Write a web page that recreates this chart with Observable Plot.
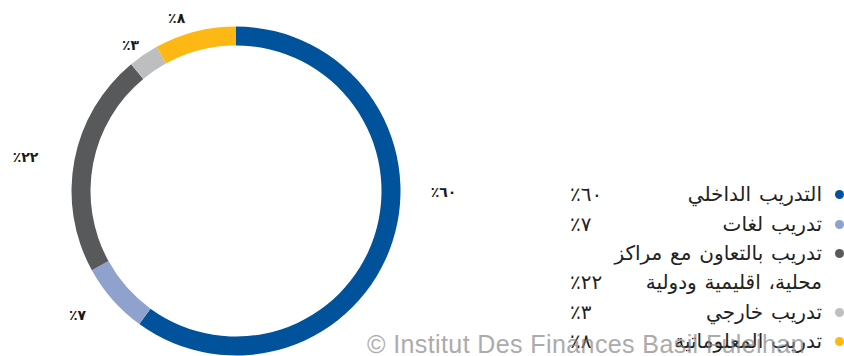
<!DOCTYPE html>
<html><head><meta charset="utf-8">
<script src="https://cdn.jsdelivr.net/npm/d3@7"></script>
<script src="https://cdn.jsdelivr.net/npm/@observablehq/plot@0.6"></script>
<style>
body{margin:0;background:#fff;}
#wrap{position:relative;width:844px;height:356px;overflow:hidden;font-family:"DejaVu Sans",sans-serif;}
#wrap svg{position:absolute;left:0;top:0;}
.legend{position:absolute;left:570px;top:180.3px;width:274px;color:#222;font-size:20px;line-height:29.4px;}
.row{position:relative;height:29.4px;}
.row.two{height:58.8px;}
.dot{position:absolute;right:0;top:10.2px;width:9px;height:9px;border-radius:50%;}
.lab{position:absolute;right:22px;top:0;white-space:nowrap;direction:rtl;text-align:right;word-spacing:1.5px;}
.pct{position:absolute;left:0;bottom:0;direction:ltr;unicode-bidi:isolate;}
.wm{position:absolute;left:367px;top:329px;font-family:"Liberation Sans",Arial,sans-serif;font-size:25px;letter-spacing:0.4px;color:#888;opacity:0.7;white-space:nowrap;line-height:30px;}
</style></head><body><div id="wrap"></div>
<script>
// ---- data ----
const categories = ["التدريب الداخلي", "تدريب لغات", "تدريب بالتعاون مع مراكز|محلية، اقليمية ودولية", "تدريب خارجي", "تدريب المعلوماتية"];
const values = [60, 7, 22, 3, 8];
const valueLabels = ["٪٦٠", "٪٧", "٪٢٢", "٪٣", "٪٨"];

// ---- styles / layout ----
const palette = ["#00539b", "#8fa2cd", "#58595b", "#bcbec0", "#fdb813"];
const innerFrac = 145.5 / 164.5;
const labelAngles = [90.3, 232.0, 279.2, 324, 340.9];   // degrees clockwise from top
const labelRadii = [1.258, 1.226, 1.299, 1.097, 1.112]; // in units of outer radius

const data = categories.map((c, i) => ({cat: c, value: values[i], label: valueLabels[i],
  lx: labelRadii[i] * Math.sin(labelAngles[i] * Math.PI / 180),
  ly: labelRadii[i] * Math.cos(labelAngles[i] * Math.PI / 180)}));

const pieData = d3.pie().sort(null).value(d => d.value)(data);

function donut(index, scales) {
  const {x, y} = scales;
  const cx = x(0), cy = y(0), R = x(1) - x(0);
  const arc = d3.arc().innerRadius(R * innerFrac).outerRadius(R);
  const g = d3.create("svg:g").attr("transform", `translate(${cx},${cy})`);
  g.selectAll("path").data(pieData).join("path")
    .attr("d", arc)
    .attr("fill", d => scales.color(d.data.cat));
  return g.node();
}

const chart = Plot.plot({
  width: 844, height: 356,
  marginLeft: 71.5, marginRight: 443.5, marginTop: 26.5, marginBottom: 0.5,
  x: {domain: [-1, 1], axis: null},
  y: {domain: [-1, 1], axis: null},
  color: {domain: categories, range: palette},
  style: {background: "transparent", overflow: "visible"},
  marks: [
    donut,
    Plot.text(data, {x: "lx", y: "ly", text: "label", fill: "#1a1a1a",
      fontSize: 14, fontWeight: "bold", fontFamily: "DejaVu Sans", textAnchor: "middle"}),
    Plot.dot(data, {x: "lx", y: "ly", r: 0, stroke: "cat", strokeOpacity: 0})
  ]
});

const wrap = document.getElementById("wrap");
wrap.appendChild(chart);

const legend = document.createElement("div");
legend.className = "legend";
data.forEach((d, i) => {
  const lines = d.cat.split("|");
  const row = document.createElement("div");
  row.className = "row" + (lines.length > 1 ? " two" : "");
  const dot = document.createElement("span");
  dot.className = "dot";
  dot.style.background = palette[i];
  const lab = document.createElement("span");
  lab.className = "lab";
  lab.innerHTML = lines.join("<br>");
  const pct = document.createElement("span");
  pct.className = "pct";
  pct.textContent = d.label;
  row.append(dot, lab, pct);
  legend.appendChild(row);
});
wrap.appendChild(legend);

const wm = document.createElement("div");
wm.className = "wm";
wm.textContent = "© Institut Des Finances Basil Fuleihan";
wrap.appendChild(wm);
</script>
</body></html>
